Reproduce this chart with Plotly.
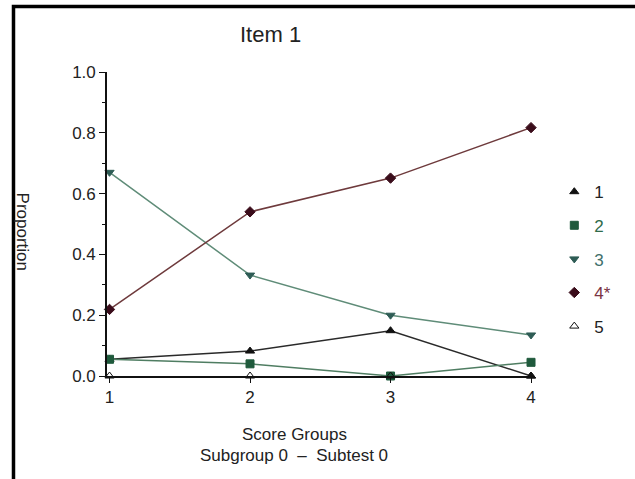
import plotly.graph_objects as go

score_groups = [1, 2, 3, 4]
series_names = ["1", "2", "3", "4*", "5"]
p1 = [0.055, 0.082, 0.149, 0.0]
p2 = [0.055, 0.040, 0.0, 0.045]
p3 = [0.670, 0.332, 0.200, 0.135]
p4 = [0.219, 0.540, 0.651, 0.817]
p5 = [0.0, 0.0, 0.0, 0.0]
y_ticks = [0.0, 0.2, 0.4, 0.6, 0.8, 1.0]
y_tick_text = ["0.0", "0.2", "0.4", "0.6", "0.8", "1.0"]

FONT = "Liberation Sans, Arial, sans-serif"

styles = [
    dict(values=p1, line="#2a2a2a", marker="#111111", symbol="triangle-up", text="#222222"),
    dict(values=p2, line="#4f7d62", marker="#1f5a3c", symbol="square", text="#2f6b4a"),
    dict(values=p3, line="#5f8c78", marker="#2e5c55", symbol="triangle-down", text="#416f6b"),
    dict(values=p4, line="#6e3a3c", marker="#3a0c1a", symbol="diamond", text="#7a3343"),
    dict(values=p5, line="rgba(0,0,0,0)", marker="#111111", symbol="triangle-up-open", text="#222222"),
]

fig = go.Figure()
for name, s in zip(series_names, styles):
    fig.add_trace(go.Scatter(
        x=score_groups, y=s["values"], mode="lines",
        line=dict(color=s["line"], width=1.5),
        showlegend=False, cliponaxis=False, hoverinfo="skip"))
for name, s in zip(series_names, styles):
    fig.add_trace(go.Scatter(
        x=score_groups, y=s["values"], mode="markers",
        marker=dict(color=s["marker"], symbol=s["symbol"], size=8,
                    line=dict(color=s["marker"], width=1)),
        name="<span style='color:%s'>%s</span>" % (s["text"], name),
        legendgroup=name, cliponaxis=False))

fig.update_layout(
    width=635, height=479,
    paper_bgcolor="white", plot_bgcolor="white",
    margin=dict(l=107, r=102, t=72, b=103),
    font=dict(family=FONT, size=17, color="#222222"),
    showlegend=True,
    legend=dict(x=1.05, xanchor="left", y=0.664, yanchor="top",
                tracegroupgap=8.5, bgcolor="rgba(0,0,0,0)",
                font=dict(family=FONT, size=17)),
    xaxis=dict(range=[0.982, 4.014], tickvals=score_groups, ticktext=[str(v) for v in score_groups],
               showgrid=False, zeroline=False, showline=True, linecolor="#111111", linewidth=1.6,
               ticks="outside", ticklen=5, tickcolor="#111111", tickwidth=1.4,
               tickfont=dict(size=17, color="#222222")),
    yaxis=dict(range=[0, 1.0], tickvals=y_ticks, ticktext=y_tick_text,
               showgrid=False, zeroline=False, showline=True, linecolor="#111111", linewidth=1.6,
               ticks="outside", ticklen=6, tickcolor="#111111", tickwidth=1.4,
               minor=dict(ticks="outside", ticklen=3, dtick=0.1, tickcolor="#111111", showgrid=False),
               tickfont=dict(size=17, color="#222222")),
    shapes=[dict(type="path", xref="paper", yref="paper",
                 path="M -0.2195 -0.6 L -0.2195 1.2155 L 1.6 1.2155",
                 line=dict(color="#000000", width=3.5))],
    annotations=[
        dict(text="Item 1", xref="paper", yref="paper", x=0.383, y=1.125,
             showarrow=False, xanchor="center", yanchor="middle",
             font=dict(size=22, color="#222222")),
        dict(text="Proportion", xref="paper", yref="paper", x=-0.1995, y=0.475,
             showarrow=False, textangle=90, xanchor="center", yanchor="middle",
             font=dict(size=17, color="#222222")),
        dict(text="Score Groups", xref="paper", yref="paper", x=0.439, y=-0.191,
             showarrow=False, xanchor="center", yanchor="middle",
             font=dict(size=17, color="#222222")),
        dict(text="Subgroup 0  \u2013  Subtest 0", xref="paper", yref="paper", x=0.439, y=-0.263,
             showarrow=False, xanchor="center", yanchor="middle",
             font=dict(size=17, color="#222222")),
    ],
)

fig.write_html("out.html", config={"displayModeBar": False},
               post_script="document.body.style.margin='0';document.body.style.overflow='hidden';")
